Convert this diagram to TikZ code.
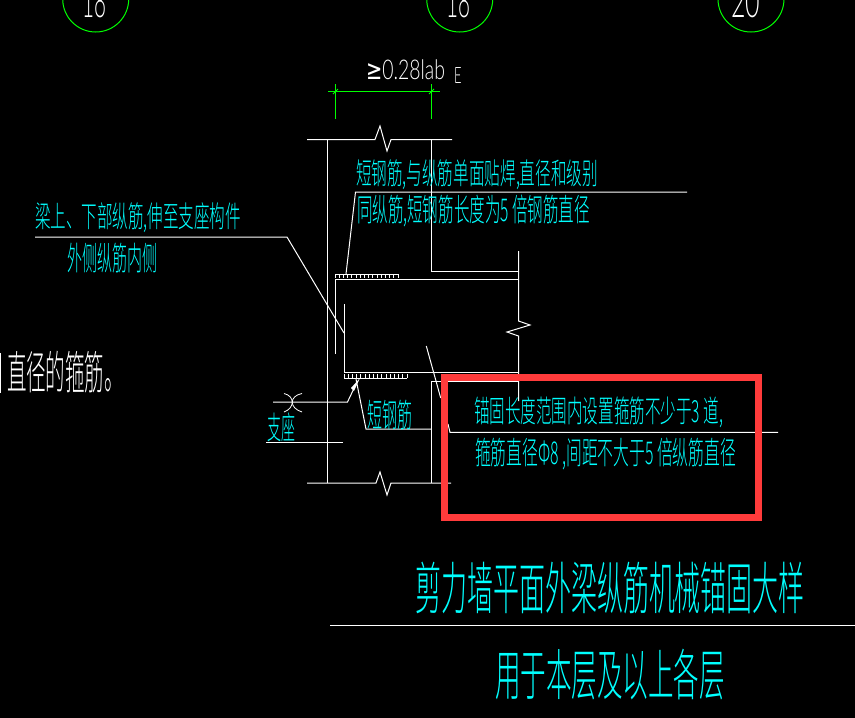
\documentclass[tikz,border=0pt]{standalone}
\usepackage{graphicx}
\usepackage{fontspec}
\setmainfont{Lato Light}
\newfontfamily\cjk{Noto Sans CJK SC Light}
\newfontfamily\djv{DejaVu Sans}
\definecolor{cadcyan}{RGB}{0,255,255}
\definecolor{cadgreen}{RGB}{0,255,0}
\definecolor{cadred}{RGB}{255,59,59}
\newcommand{\fitbox}[3]{\resizebox*{#1pt}{#2pt}{\cjk #3}}
\tikzset{
  wline/.style={draw=white,line width=1pt},
  gline/.style={draw=cadgreen,line width=1pt},
  lbl/.style={anchor=north west,inner sep=0pt,outer sep=0pt,text=cadcyan},
  wlbl/.style={lbl,text=white},
}
\begin{document}
\begin{tikzpicture}[x=1pt,y=-1pt]
\fill[black] (0,0) rectangle (855,718);
\useasboundingbox (0,0) rectangle (855,718);
% grid bubbles
\begin{scope}
\clip (0,0) rectangle (855,718);
\draw[gline] (95.7,-1) circle (33);
\draw[gline] (459.7,-1) circle (33);
\draw[gline] (751,-1) circle (33);
\end{scope}
\node[wlbl,anchor=south west] (g1) at (82,18) {\resizebox*{24pt}{32pt}{18}};
\node[wlbl,anchor=south west] (g2) at (446,18) {\resizebox*{24pt}{32pt}{18}};
\node[wlbl,anchor=south west] (g3) at (731,18) {\resizebox*{29pt}{32pt}{20}};
% dimension
\draw[gline] (328,91.5) -- (440,91.5);
\draw[gline] (335.5,84) -- (335.5,119);
\draw[gline] (431.5,84) -- (431.5,119);
\draw[gline] (333,94) -- (338,89);
\draw[gline] (429,94) -- (434,89);
\node[wlbl] (dim) at (366,60) {\resizebox*{79pt}{20pt}{{\djv ≥}0.28lab}};
\node[wlbl] (dimE) at (454,67) {\resizebox*{7.5pt}{16pt}{E}};
% wall and beam
\draw[wline] (307,139.5) -- (375,139.5) -- (380,126) -- (387,151) -- (391,139.5) -- (452,139.5);
\draw[wline] (327,139.5) -- (327,483);
\draw[wline] (431.5,139.5) -- (431.5,271.3) -- (518.5,271.3);
\draw[wline] (518.5,251) -- (518.5,321) -- (530,325) -- (507,332) -- (518.5,336) -- (518.5,401);
\draw[wline] (335.5,353.7) -- (335.5,279.5) -- (518.5,279.5);
\draw[wline] (344.3,304) -- (344.3,372.3) -- (518.5,372.3);
\draw[wline] (518.5,381) -- (431.3,381) -- (431.3,483);
\draw[wline] (307,483) -- (376,483) -- (380,472) -- (387,495) -- (391,483) -- (451,483);
% hatches
\draw[white,line width=0.8pt] (335,274.3) -- (398,274.3);
\foreach \k in {0,...,15} \draw[white,line width=0.8pt] (335+4.2*\k,274.3) -- (335+4.2*\k,278);
\draw[white,line width=0.8pt] (344,378) -- (407,378);
\foreach \k in {0,...,15} \draw[white,line width=0.8pt] (344+4.2*\k,378) -- (344+4.2*\k,374);
% leaders
\draw[wline] (687,192) -- (355.5,192) -- (346,274);
\draw[wline] (35,237) -- (287,237) -- (344,333);
\draw[wline] (426.3,346) -- (440.7,398);
\draw[wline] (448,424) -- (450,432.3) -- (778,432.3);
\draw[wline] (431,429) -- (366,429) -- (356,379);
\draw[wline] (273,402) -- (347.5,402) -- (357,382);
\fill[white] (360,378) -- (354,391) -- (351,388) -- cycle;
% support mark
\draw[white,line width=0.8pt] (284,393.5) .. controls (295,396) and (295,408) .. (284,412);
\draw[white,line width=0.8pt] (302,393.5) .. controls (289,396) and (289,408) .. (302,412);
\draw[wline] (266,442) -- (343,442);
% other lines
\draw[wline] (330,625) -- (855,625);
\draw[white,line width=1pt] (0.5,353) -- (0.5,393);
% red box
\draw[cadred,line width=7pt] (444.5,377) rectangle (758.5,517.5);
% texts
\node[lbl] (t1) at (356,160) {\fitbox{242}{30}{短钢筋,与纵筋单面贴焊,直径和级别}};
\node[lbl] (t2) at (357,195) {\fitbox{233}{32}{同纵筋,短钢筋长度为5 倍钢筋直径}};
\node[lbl] (t3) at (35,203) {\fitbox{206}{30}{梁上、下部纵筋,伸至支座构件}};
\node[lbl] (t4) at (67,243) {\fitbox{90}{30}{外侧纵筋内侧}};
\node[wlbl] (t5) at (7,351) {\fitbox{117}{42}{直径的箍筋。}};
\node[lbl] (t6) at (474,397) {\fitbox{249}{31}{锚固长度范围内设置箍筋不少于3 道,}};
\node[lbl] (t7) at (475,438) {\fitbox{261}{32}{箍筋直径Φ8 ,间距不大于5 倍纵筋直径}};
\node[lbl] (t8) at (367,400) {\fitbox{45}{30}{短钢筋}};
\node[lbl] (t9) at (267,413) {\fitbox{28}{29}{支座}};
\node[lbl] (t10) at (415,562) {\fitbox{390}{52}{剪力墙平面外梁纵筋机械锚固大样}};
\node[lbl] (t11) at (495,649) {\fitbox{230}{51}{用于本层及以上各层}};
\end{tikzpicture}
\end{document}
